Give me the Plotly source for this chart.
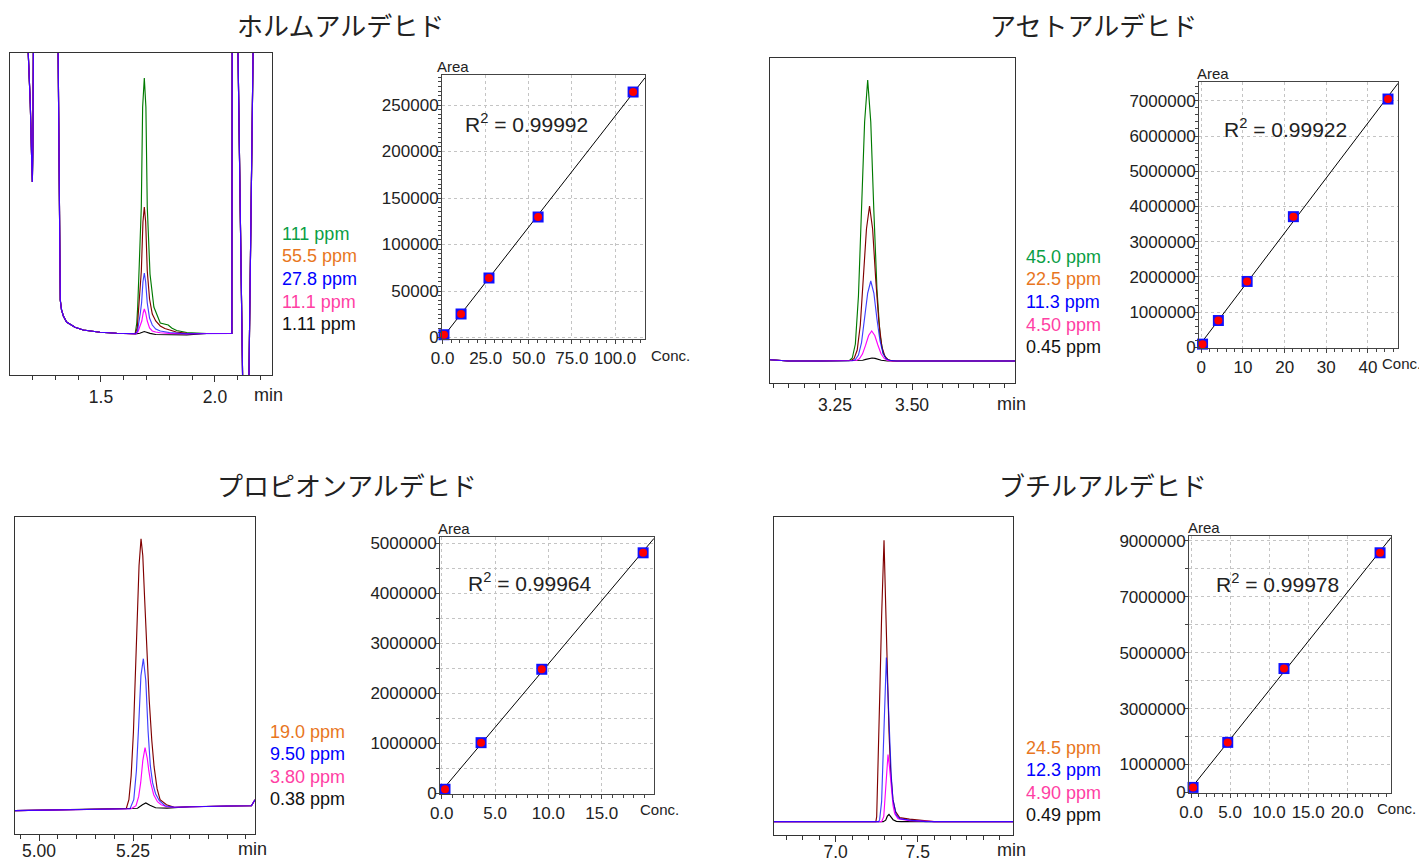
import numpy as np
import plotly.graph_objects as go

W, H = 1427, 861
OFF = 8  # page body margin in the browser

# ---------------- data ----------------
titles = ["ホルムアルデヒド", "アセトアルデヒド", "プロピオンアルデヒド", "ブチルアルデヒド"]

# --- Formaldehyde chromatogram (min, response in arbitrary units)
fa_t_pre = [1.101, 1.170, 1.181, 1.190, 1.196, 1.199, 1.2015, 1.2035, 1.210, 1.300, 1.312,
            1.316, 1.319, 1.3215, 1.327, 1.335, 1.349, 1.386, 1.4224, 1.4956, 1.5689, 1.642]
fa_y_pre = [600, 600, 281, 230, 175, 152, 190, 281, 600, 600, 300,
            160, 60, 34, 24, 18, 12, 6.7, 4, 1.7, 0.7, 0.3]
fa_t_post = [1.964, 2.074, 2.077, 2.098, 2.101, 2.121, 2.13, 2.14, 2.149, 2.167, 2.170, 2.25]
fa_y_post = [0.5, 0.5, 600, 600, 281, -41, -90, -90, -41, 281, 600, 600]
fa_t_peaks = [
    [1.650, 1.657, 1.661, 1.668, 1.6768, 1.6827, 1.690, 1.697, 1.703, 1.715, 1.732, 1.760, 1.780, 1.795, 1.810, 1.832, 1.876],
    [1.650, 1.659, 1.664, 1.671, 1.677, 1.684, 1.690, 1.696, 1.703, 1.713, 1.725, 1.740, 1.760, 1.780, 1.800, 1.830, 1.876],
    [1.652, 1.660, 1.666, 1.672, 1.678, 1.684, 1.690, 1.696, 1.703, 1.713, 1.725, 1.740, 1.760, 1.800, 1.876],
    [1.652, 1.662, 1.672, 1.679, 1.685, 1.690, 1.696, 1.703, 1.713, 1.725, 1.740, 1.760, 1.800, 1.876],
    [1.652, 1.670, 1.680, 1.690, 1.700, 1.715, 1.740, 1.800, 1.876],
]
fa_y_peaks = [
    [0.5, 11, 27, 70, 127, 227, 256, 227, 127, 60, 27, 11, 10, 9, 6, 3.5, 1.5],
    [0.3, 6, 20, 40, 63, 112, 127, 112, 63, 35, 20, 13, 8, 5.5, 4, 2, 0.8],
    [0.3, 3, 10, 20, 31, 52, 61, 52, 31, 16, 9, 5, 3, 1.5, 0.3],
    [0.2, 2, 8, 13, 21, 25, 21, 13, 6, 3, 2, 1.2, 0.6, 0.2],
    [0, 0.8, 1.8, 2.5, 1.8, 0.6, -0.5, -0.8, -0.8],
]
fa_labels = ["111 ppm", "55.5 ppm", "27.8 ppm", "11.1 ppm", "1.11 ppm"]

# --- Acetaldehyde chromatogram
aa_t_pre = [3.039, 3.07, 3.10, 3.20, 3.29]
aa_y_pre = [1.3, 0.4, 0, 0, 0]
aa_t_post = [3.45, 3.60, 3.834]
aa_y_post = [0, 0, 0]
aa_t_peaks = [
    [3.296, 3.306, 3.316, 3.326, 3.336, 3.346, 3.356, 3.366, 3.376, 3.386, 3.396, 3.406, 3.416, 3.426, 3.44],
    [3.302, 3.312, 3.322, 3.332, 3.342, 3.352, 3.362, 3.372, 3.382, 3.392, 3.402, 3.412, 3.422, 3.436],
    [3.306, 3.316, 3.326, 3.336, 3.346, 3.356, 3.366, 3.376, 3.386, 3.396, 3.406, 3.416, 3.426, 3.44],
    [3.319, 3.329, 3.339, 3.349, 3.359, 3.369, 3.379, 3.389, 3.399, 3.409, 3.419, 3.43],
    [3.32, 3.34, 3.35, 3.36, 3.37, 3.38, 3.39, 3.40, 3.42],
]
aa_y_peaks = [
    [0.3, 3, 17, 65, 146, 239, 281, 239, 150, 72, 26, 8, 2.5, 0.8, 0],
    [0.5, 2.6, 11, 36, 80, 132, 155, 132, 82, 40, 14, 4.5, 1.4, 0],
    [0.2, 1.35, 5.9, 18.4, 41.6, 68, 80, 68, 42, 20, 7.5, 2.3, 0.7, 0],
    [0.5, 2.2, 6.9, 15.6, 25.5, 30, 25.5, 16, 7.5, 2.8, 0.9, 0],
    [0, 0.7, 1.6, 2.6, 3, 2.6, 1.6, 0.7, 0],
]
aa_labels = ["45.0 ppm", "22.5 ppm", "11.3 ppm", "4.50 ppm", "0.45 ppm"]

# --- Propionaldehyde chromatogram
pa_t_pre = [4.936, 5.00, 5.10, 5.20, 5.228]
pa_y_pre = [0, 0.4, 1.0, 1.5, 1.7]
pa_t_post = [5.40, 5.50, 5.565, 5.5745]
pa_y_post = [4.0, 4.7, 5.0, 11]
pa_t_peaks = [
    [5.232, 5.239, 5.245, 5.251, 5.26, 5.266, 5.2713, 5.276, 5.281, 5.287, 5.293, 5.30, 5.306, 5.314, 5.322, 5.339, 5.36],
    [5.242, 5.252, 5.259, 5.265, 5.271, 5.2775, 5.284, 5.29, 5.296, 5.302, 5.31, 5.32, 5.335, 5.36],
    [5.245, 5.258, 5.265, 5.2704, 5.276, 5.282, 5.288, 5.292, 5.297, 5.305, 5.315, 5.325, 5.34, 5.36],
    [5.24, 5.262, 5.275, 5.284, 5.295, 5.31, 5.34, 5.36],
]
pa_y_peaks = [
    [2, 11, 35, 78, 178, 245, 272, 255, 211, 160, 111, 70, 44, 22, 11, 6, 3.5],
    [2, 11, 40, 85, 135, 152, 130, 80, 45, 28, 17, 10, 5, 3.5],
    [2, 5, 14, 28, 50, 63, 52, 40, 28, 16, 9, 6, 4, 3.5],
    [2, 2.5, 6, 7.7, 5.5, 3, 2.6, 3.3],
]
pa_labels = ["19.0 ppm", "9.50 ppm", "3.80 ppm", "0.38 ppm"]

# --- Butyraldehyde chromatogram
ba_t_pre = [6.624, 7.0, 7.2, 7.24]
ba_y_pre = [0, 0, 0, 0]
ba_t_post = [7.6, 8.081]
ba_y_post = [0, 0]
ba_t_peaks = [
    [7.245, 7.25, 7.26, 7.27, 7.28, 7.2947, 7.305, 7.315, 7.325, 7.335, 7.349, 7.365, 7.39, 7.45, 7.53, 7.59],
    [7.262, 7.268, 7.28, 7.29, 7.30, 7.309, 7.318, 7.329, 7.339, 7.349, 7.369, 7.39, 7.45, 7.55],
    [7.28, 7.293, 7.305, 7.312, 7.319, 7.328, 7.339, 7.35, 7.36, 7.38, 7.45, 7.55],
    [7.29, 7.305, 7.315, 7.325, 7.337, 7.35, 7.37, 7.40],
]
ba_y_peaks = [
    [0, 5, 60, 135, 205, 281, 215, 150, 90, 50, 22, 10, 4, 2.5, 1, 0],
    [0, 2, 20, 70, 135, 164, 130, 82, 45, 22, 7, 3, 1.5, 0],
    [0, 5, 38, 58, 67, 55, 32, 16, 8, 3, 1, 0],
    [0, 1.5, 5.5, 7.3, 5, 2, 0.3, 0],
]
ba_labels = ["24.5 ppm", "12.3 ppm", "4.90 ppm", "0.49 ppm"]

# --- Calibration data (concentration ppm, peak area)
fa_conc = [0.8, 10.7, 26.9, 55.4, 110.5]
fa_area = [3000, 25300, 64000, 129600, 264000]
aa_conc = [0.3, 4.1, 11.0, 22.1, 44.8]
aa_area = [90000, 760000, 1870000, 3710000, 7050000]
pa_conc = [0.31, 3.69, 9.38, 18.88]
pa_area = [80000, 1012000, 2480000, 4810000]
ba_conc = [0.26, 4.7, 11.9, 24.2]
ba_area = [180000, 1790000, 4430000, 8570000]
r2_texts = ["0.99992", "0.99922", "0.99964", "0.99978"]

# ---------------- styling ----------------
FONT = "Liberation Sans, Arial, sans-serif"
JFONT = "Noto Sans CJK JP, sans-serif"
C_GREEN, C_RED, C_BLUE, C_MAG, C_BLK = "#007a00", "#800000", "#0000ff", "#ff00ff", "#000000"
L_GREEN, L_ORANGE, L_BLUE, L_PINK, L_BLK = "#0a9e45", "#e8761e", "#0000ff", "#ff3fa4", "#111111"
GRID = "#c4c4c4"

fig = go.Figure()
layout = dict(width=W, height=H, margin=dict(l=0, r=0, t=0, b=0, pad=0, autoexpand=False),
              paper_bgcolor="white", plot_bgcolor="white", showlegend=False,
              font=dict(family=FONT, color="#222"))
annotations = []


def dx(l, r):
    return [(l - OFF) / W, (r - OFF) / W]


def dy(t, b):
    return [1 - (b - OFF) / H, 1 - (t - OFF) / H]


def ann(x, y, text, size, color="#222", xanchor="left", font=FONT):
    annotations.append(dict(x=(x - OFF) / W, y=1 - (y - OFF) / H, xref="paper", yref="paper", text=text,
                            showarrow=False, xanchor=xanchor, yanchor="middle",
                            font=dict(size=size, color=color, family=font)))


def chrom(idx, box, xr, yr, t_pre, y_pre, t_post, y_post, t_peaks, y_peaks, colors,
          labels, lcolors, lab_pos, majors, majtext, minor_t0, minor_dt, min_pos, standoff=0):
    xa, ya = f"x{idx}", f"y{idx}"
    l, t, r, b = box
    n = len(colors)
    draw_order = [n - 1] + [k for k in range(n - 1) if colors[k] != C_BLUE] + \
                 [k for k in range(n - 1) if colors[k] == C_BLUE]
    for k in draw_order:
        tt = list(t_pre) + list(t_peaks[k]) + list(t_post)
        yy = list(y_pre) + list(y_peaks[k]) + list(y_post)
        op = 0.75 if colors[k] == C_BLUE else 1.0
        fig.add_trace(go.Scatter(x=tt, y=yy, mode="lines", xaxis=xa, yaxis=ya, opacity=op,
                                 line=dict(color=colors[k], width=1.15), hoverinfo="skip"))
    layout[f"xaxis{idx}"] = dict(domain=dx(l, r), range=xr, anchor=ya, showline=True, mirror=True,
                                 linecolor="#333", linewidth=1, ticks="outside", ticklen=6,
                                 tickcolor="#333", tickmode="array", tickvals=majors, ticktext=majtext,
                                 tickfont=dict(size=17.5, color="#222"), showgrid=False, zeroline=False,
                                 automargin=False, ticklabelstandoff=standoff,
                                 minor=dict(ticks="outside", ticklen=4, tick0=minor_t0, dtick=minor_dt,
                                            tickcolor="#333", showgrid=False))
    layout[f"yaxis{idx}"] = dict(domain=dy(t, b), range=yr, anchor=xa, showline=True, mirror=True,
                                 linecolor="#333", linewidth=1, ticks="", showticklabels=False,
                                 showgrid=False, zeroline=False, automargin=False)
    lx, ly0, lstep = lab_pos
    for k, (txt, c) in enumerate(zip(labels, lcolors)):
        ann(lx, ly0 + k * lstep, txt, 18, c)
    ann(min_pos[0], min_pos[1], "min", 18)


def calib(idx, box, xr, yr, conc, area, xt, xtt, yt, ytt, xminor, yminor, ygrid_minor,
          r2, r2pos, area_pos, conc_pos):
    xa, ya = f"x{idx}", f"y{idx}"
    l, t, r, b = box
    slope, icpt = np.polyfit(conc, area, 1)
    xs = [0, xr[1]]
    fig.add_trace(go.Scatter(x=xs, y=[icpt + slope * v for v in xs], mode="lines", xaxis=xa, yaxis=ya,
                             line=dict(color="#000", width=1), hoverinfo="skip"))
    fig.add_trace(go.Scatter(x=conc, y=area, mode="markers", xaxis=xa, yaxis=ya, cliponaxis=False,
                             marker=dict(symbol="square", size=11, color="#1010ff",
                                         line=dict(width=0)), hoverinfo="skip"))
    fig.add_trace(go.Scatter(x=conc, y=area, mode="markers", xaxis=xa, yaxis=ya, cliponaxis=False,
                             marker=dict(symbol="circle", size=8, color="#ff0000",
                                         line=dict(width=0)), hoverinfo="skip"))
    common = dict(showline=True, mirror=True, linecolor="#444", linewidth=1, ticks="outside",
                  ticklen=4, tickcolor="#444", tickmode="array", showgrid=True,
                  gridcolor=GRID, griddash="dot", gridwidth=1, zeroline=False, automargin=False,
                  tickfont=dict(size=17, color="#222"))
    layout[f"xaxis{idx}"] = dict(common, domain=dx(l, r), range=xr, anchor=ya, tickvals=xt, ticktext=xtt,
                                 minor=dict(ticks="outside", ticklen=3, tick0=0, dtick=xminor,
                                            tickcolor="#444", showgrid=False))
    layout[f"yaxis{idx}"] = dict(common, domain=dy(t, b), range=yr, anchor=xa, tickvals=yt, ticktext=ytt,
                                 ticklabelstandoff=-5,
                                 minor=dict(ticks="outside", ticklen=3, tick0=0, dtick=yminor,
                                            tickcolor="#444", showgrid=ygrid_minor,
                                            gridcolor=GRID, griddash="dot", gridwidth=1))
    ann(r2pos[0], r2pos[1], f"R<sup>2</sup> = {r2}", 21)
    ann(area_pos[0], area_pos[1], "Area", 15)
    ann(conc_pos[0], conc_pos[1], "Conc.", 15)


# ---- formaldehyde
chrom(1, (10, 53, 272, 375), [1.101, 2.25], [-41, 281], fa_t_pre, fa_y_pre, fa_t_post, fa_y_post,
      fa_t_peaks, fa_y_peaks, [C_GREEN, C_RED, C_BLUE, C_MAG, C_BLK], fa_labels,
      [L_GREEN, L_ORANGE, L_BLUE, L_PINK, L_BLK], (280, 234, 22.5), [1.5, 2.0], ["1.5", "2.0"],
      1.0, 0.1, (252, 395))
calib(2, (442, 75, 645, 339), [-0.35, 117.4], [-1600, 282300], fa_conc, fa_area,
      [0, 25, 50, 75, 100], ["0.0", "25.0", "50.0", "75.0", "100.0"],
      [0, 50000, 100000, 150000, 200000, 250000], ["0", "50000", "100000", "150000", "200000", "250000"],
      5, 5000, False, r2_texts[0], (463, 123), (435, 67), (649, 355))

# ---- acetaldehyde
chrom(3, (770, 58, 1015, 383), [3.039, 3.834], [-22, 303], aa_t_pre, aa_y_pre, aa_t_post, aa_y_post,
      aa_t_peaks, aa_y_peaks, [C_GREEN, C_RED, C_BLUE, C_MAG, C_BLK], aa_labels,
      [L_GREEN, L_ORANGE, L_BLUE, L_PINK, L_BLK], (1024, 257, 22.5), [3.25, 3.5],
      ["3.25", "3.50"], 3.0, 0.05, (995, 404))
calib(4, (1199, 82, 1398, 348), [-0.55, 47.2], [-20000, 7534000], aa_conc, aa_area,
      [0, 10, 20, 30, 40], ["0", "10", "20", "30", "40"],
      [i * 1000000 for i in range(8)], ["0"] + [f"{i}000000" for i in range(1, 8)],
      2, 200000, False, r2_texts[1], (1222, 128), (1195, 73), (1380, 364))

# ---- propionaldehyde
chrom(5, (15, 517, 255, 834), [4.936, 5.5745], [-23.3, 293.7], pa_t_pre, pa_y_pre, pa_t_post, pa_y_post,
      pa_t_peaks, pa_y_peaks, [C_RED, C_BLUE, C_MAG, C_BLK], pa_labels,
      [L_ORANGE, L_BLUE, L_PINK, L_BLK], (268, 732, 22.4), [5.0, 5.25],
      ["5.00", "5.25"], 4.9, 0.05, (236, 849), standoff=-5)
calib(6, (440, 537, 654, 794), [-0.16, 19.9], [-15000, 5126000], pa_conc, pa_area,
      [0, 5, 10, 15], ["0.0", "5.0", "10.0", "15.0"],
      [i * 1000000 for i in range(6)], ["0"] + [f"{i}000000" for i in range(1, 6)],
      1, 500000, True, r2_texts[2], (466, 582), (436, 528), (638, 809))

# ---- butyraldehyde
chrom(7, (774, 517, 1013, 835), [6.624, 8.081], [-13.3, 304.3], ba_t_pre, ba_y_pre, ba_t_post, ba_y_post,
      ba_t_peaks, ba_y_peaks, [C_RED, C_BLUE, C_MAG, C_BLK], ba_labels,
      [L_ORANGE, L_BLUE, L_PINK, L_BLK], (1024, 748, 22.4), [7.0, 7.5],
      ["7.0", "7.5"], 6.6, 0.1, (995, 850), standoff=-5)
calib(8, (1189, 536, 1391, 793), [-0.26, 25.6], [-20000, 9170000], ba_conc, ba_area,
      [0, 5, 10, 15, 20], ["0.0", "5.0", "10.0", "15.0", "20.0"],
      [0, 1000000, 3000000, 5000000, 7000000, 9000000],
      ["0", "1000000", "3000000", "5000000", "7000000", "9000000"],
      1, 1000000, True, r2_texts[3], (1214, 583), (1186, 527), (1375, 808))

# ---- titles
for (cx, cy), txt in zip([(340, 25), (1093, 25), (347, 484), (1103, 484)], titles):
    ann(cx, cy, txt, 26, "#222", "center", JFONT)

layout["annotations"] = annotations
fig.update_layout(**layout)
fig.write_html("out.html")
